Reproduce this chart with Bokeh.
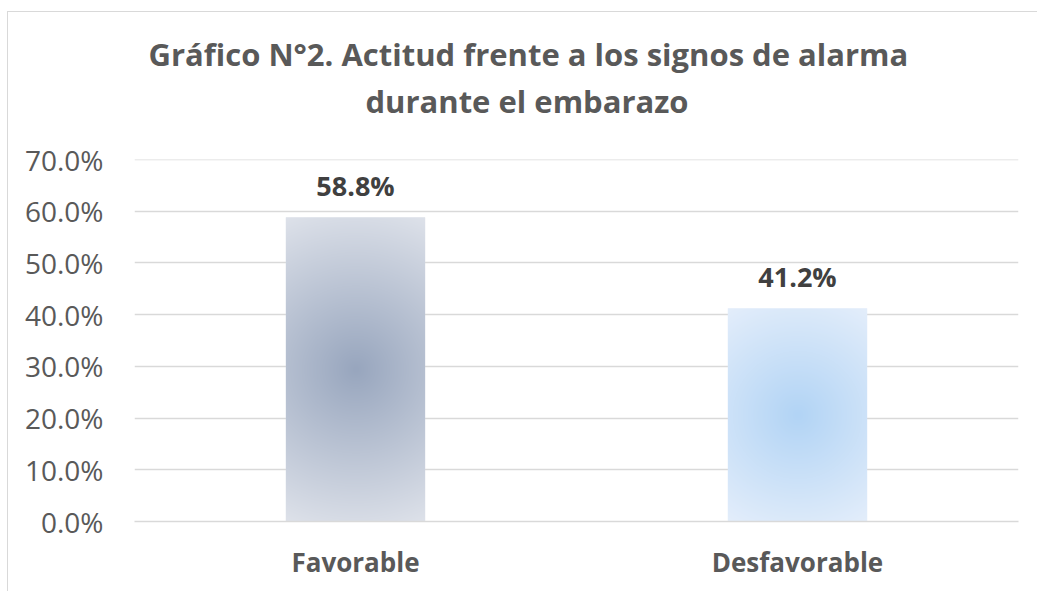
import numpy as np
from bokeh.plotting import figure
from bokeh.models import (ColumnDataSource, LabelSet, Title, Range1d, FixedTicker,
                          NumeralTickFormatter)
from bokeh.core.properties import value
from bokeh.embed import file_html
from bokeh.resources import INLINE

# ---- data ----
categories = ["Favorable", "Desfavorable"]
values = [0.588, 0.412]
value_labels = ["58.8%", "41.2%"]
y_ticks = [0.0, 0.1, 0.2, 0.3, 0.4, 0.5, 0.6, 0.7]
title_lines = ["Gráfico N°2. Actitud frente a los signos de alarma", "durante el embarazo"]

# gradient colours (center, edge) per bar
center_colors = [(152, 166, 190), (178, 212, 245)]
edge_colors = [(222, 226, 234), (228, 238, 251)]

FONT = "Open Sans"
BAR_W = 0.315
FRAME_W = 884
FRAME_H = 362

xs = [i + 0.5 for i in range(len(categories))]
src = ColumnDataSource(dict(x=xs, top=values, label=value_labels,
                            edge=["#%02x%02x%02x" % c for c in edge_colors]))

p = figure(width=1030, height=580, output_backend="svg", toolbar_location=None,
           x_range=Range1d(0, len(categories)), y_range=Range1d(0, 0.70001),
           min_border_left=126, min_border_right=20, min_border_top=147,
           min_border_bottom=71, tools="")
p.styles = {"margin-left": "7px", "margin-top": "11px",
            "border-left": "1px solid #D9D9D9", "border-top": "1px solid #D9D9D9"}
p.outline_line_color = None
p.background_fill_color = "white"
p.border_fill_color = "white"

# bars: base fill + radial gradient image
p.vbar(x="x", top="top", width=BAR_W, bottom=0, source=src, fill_color="edge",
       line_color=None)

px_per_unit_y = FRAME_H / 0.7
px_w = int(round(BAR_W * FRAME_W / 2))
for i, v in enumerate(values):
    h = max(2, int(round(v * px_per_unit_y)))
    w = px_w
    yy, xx = np.mgrid[0:h, 0:w]
    dx = (xx + 0.5) - w / 2
    dy = (yy + 0.5) - h / 2
    r = np.sqrt(dx ** 2 + dy ** 2)
    R = np.sqrt((w / 2) ** 2 + (h / 2) ** 2)
    t = np.clip(r / R, 0, 1)
    c0 = np.array(center_colors[i], dtype=float)
    c1 = np.array(edge_colors[i], dtype=float)
    rgb = c0[None, None, :] * (1 - t[..., None]) + c1[None, None, :] * t[..., None]
    img = np.zeros((h, w), dtype=np.uint32)
    view = img.view(dtype=np.uint8).reshape((h, w, 4))
    view[..., 0] = rgb[..., 0].astype(np.uint8)
    view[..., 1] = rgb[..., 1].astype(np.uint8)
    view[..., 2] = rgb[..., 2].astype(np.uint8)
    view[..., 3] = 255
    p.image_rgba(image=[img], x=xs[i] - BAR_W / 2, y=0, dw=BAR_W, dh=v)

# value labels
p.add_layout(LabelSet(x="x", y="top", text="label", source=src, text_align="center",
                      text_baseline="alphabetic", y_offset=21, text_font=value(FONT),
                      text_font_style="bold", text_font_size="27px",
                      text_color="#404040"))

# axes
p.yaxis.ticker = FixedTicker(ticks=y_ticks)
p.yaxis.formatter = NumeralTickFormatter(format="0.0%")
p.yaxis.axis_line_color = None
p.yaxis.major_tick_line_color = None
p.yaxis.minor_tick_line_color = None
p.yaxis.major_tick_out = 0
p.yaxis.major_label_standoff = 31
p.yaxis.major_label_text_font = FONT
p.yaxis.major_label_text_font_size = "28px"
p.yaxis.major_label_text_color = "#595959"

p.xaxis.ticker = FixedTicker(ticks=xs)
p.xaxis.major_label_overrides = {x: c for x, c in zip(xs, categories)}
p.xaxis.axis_line_color = "#D9D9D9"
p.xaxis.axis_line_width = 1.3
p.xaxis.major_tick_line_color = None
p.xaxis.minor_tick_line_color = None
p.xaxis.major_tick_out = 0
p.xaxis.major_label_standoff = 22
p.xaxis.major_label_text_font = FONT
p.xaxis.major_label_text_font_style = "bold"
p.xaxis.major_label_text_font_size = "26px"
p.xaxis.major_label_text_color = "#595959"

p.xgrid.grid_line_color = None
p.ygrid.ticker = FixedTicker(ticks=y_ticks)
p.ygrid.grid_line_color = "#D9D9D9"
p.ygrid.grid_line_width = 1.3

# title (second line added first so it sits nearest the plot)
for line, standoff, offset in [(title_lines[1], 76, 231), (title_lines[0], -70, 14)]:
    p.add_layout(Title(text=line, align="left", offset=offset, standoff=standoff,
                       text_font=FONT, text_font_style="bold",
                       text_font_size="31px", text_color="#595959"), "above")

open("out.html", "w").write(file_html(p, INLINE))
